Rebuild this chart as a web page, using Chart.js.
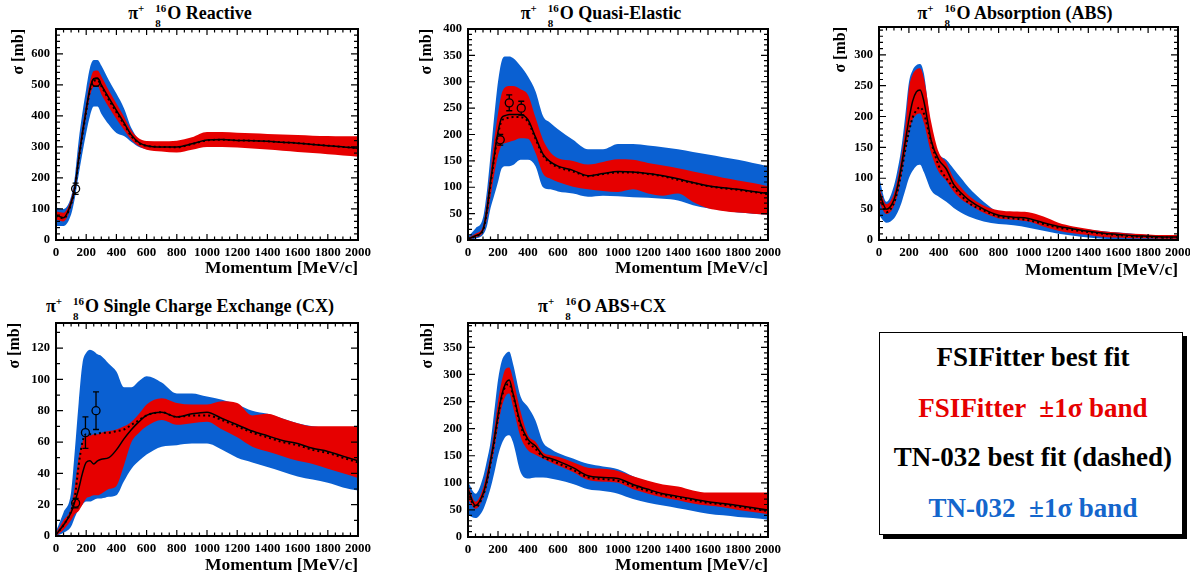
<!DOCTYPE html>
<html>
<head>
<meta charset="utf-8">
<script src="https://cdn.jsdelivr.net/npm/chart.js@4.4.1/dist/chart.umd.min.js"></script>
<style>
  body { margin: 0; background: #fff; width: 1190px; height: 578px; overflow: hidden; position: relative;
         font-family: "Liberation Serif", "Times New Roman", serif; }
  canvas { position: absolute; }
  .ttl { position: absolute; font-weight: bold; font-size: 18px; line-height: 20px; white-space: nowrap;
         transform: translateX(-50%); }
  .ttl sup { font-size: 11px; vertical-align: 7px; line-height: 0; }
  .iso { display: inline-block; position: relative; width: 12px; height: 0; margin-left: 11px; }
  .iso .a, .iso .z { position: absolute; font-size: 11px; line-height: 11px; }
  .iso .a { left: 0; top: -16px; }
  .iso .z { left: 0; top: -1px; }
  #legend { position: absolute; left: 879px; top: 332px; width: 304px; height: 203px; box-sizing: border-box;
            border: 1.5px solid #000; box-shadow: 4px 4px 0 #000; background: #fff; }
  .lg { position: absolute; left: 2px; width: 100%; text-align: center; font-weight: bold; font-size: 27px;
        line-height: 32px; white-space: pre; }
</style>
</head>
<body>
<div class="ttl" style="left:190px; top:3px">π<sup>+</sup><span class="iso"><span class="a">16</span><span class="z">8</span></span>O Reactive</div>
<div class="ttl" style="left:601px; top:3px">π<sup>+</sup><span class="iso"><span class="a">16</span><span class="z">8</span></span>O Quasi-Elastic</div>
<div class="ttl" style="left:1015px; top:3px">π<sup>+</sup><span class="iso"><span class="a">16</span><span class="z">8</span></span>O Absorption (ABS)</div>
<div class="ttl" style="left:190px; top:296px">π<sup>+</sup><span class="iso"><span class="a">16</span><span class="z">8</span></span>O Single Charge Exchange (CX)</div>
<div class="ttl" style="left:602px; top:296px">π<sup>+</sup><span class="iso"><span class="a">16</span><span class="z">8</span></span>O ABS+CX</div>

<div id="legend">
  <div class="lg" style="top:8px; color:#000">FSIFitter best fit</div>
  <div class="lg" style="top:59px; color:#e60000">FSIFitter  ±1σ band</div>
  <div class="lg" style="top:108px; color:#000">TN-032 best fit (dashed)</div>
  <div class="lg" style="top:159px; color:#1466cc">TN-032  ±1σ band</div>
</div>

<script>
// momentum grid [MeV/c], shared by all panels
const momentum = [0, 50, 100, 125, 150, 175, 200, 225, 250, 275, 300, 350, 400, 450, 500, 550, 600,
                  700, 800, 900, 1000, 1100, 1200, 1300, 1400, 1500, 1600, 1700, 1800, 1900, 2000];

// Reactive
const reactiveFsi    = [80, 72, 120, 170, 262, 345, 420, 488, 520, 522, 500, 458, 418, 378, 338, 314, 304, 300, 300, 310, 322, 324, 321, 320, 318, 315, 312, 308, 304, 300, 296];
const reactiveTn     = [78, 70, 116, 166, 255, 338, 414, 482, 512, 515, 496, 452, 412, 374, 334, 312, 303, 300, 299, 309, 321, 323, 321, 320, 318, 315, 312, 308, 304, 300, 296];
const reactiveRedHi  = [92, 88, 132, 185, 282, 365, 440, 510, 545, 546, 528, 482, 440, 398, 352, 327, 319, 318, 320, 331, 348, 348, 346, 344, 342, 340, 338, 336, 335, 334, 334];
const reactiveRedLo  = [66, 60, 108, 156, 242, 325, 398, 465, 494, 496, 470, 428, 390, 355, 322, 302, 291, 285, 282, 291, 300, 300, 298, 295, 292, 288, 284, 280, 276, 272, 268];
const reactiveBlueHi = [105, 100, 140, 205, 320, 410, 487, 555, 580, 580, 562, 515, 472, 425, 360, 324, 313, 312, 312, 322, 335, 336, 334, 332, 330, 327, 324, 320, 316, 312, 308];
const reactiveBlueLo = [45, 45, 82, 135, 210, 280, 345, 400, 430, 430, 407, 372, 345, 335, 316, 300, 293, 290, 290, 300, 310, 312, 310, 308, 306, 303, 300, 296, 292, 288, 284];
const reactivePtsX = [130, 265];
const reactivePtsY = [165, 508];
const reactivePtsErr = [18, 12];

// Quasi-elastic
const qeFsi    = [2, 8, 20, 55, 110, 160, 205, 232, 236, 238, 238, 238, 228, 195, 163, 148, 140, 132, 122, 126, 130, 129, 126, 122, 116, 109, 103, 99, 96, 92, 88];
const qeTn     = [2, 7, 18, 52, 105, 155, 200, 226, 230, 232, 233, 233, 224, 192, 160, 146, 138, 130, 121, 125, 128, 128, 125, 121, 114, 108, 102, 98, 95, 91, 87];
const qeRedHi  = [4, 12, 26, 70, 130, 190, 240, 278, 290, 292, 292, 286, 275, 232, 190, 166, 155, 150, 143, 148, 153, 152, 146, 141, 136, 130, 124, 118, 113, 108, 102];
const qeRedLo  = [1, 5, 15, 40, 82, 125, 160, 180, 184, 186, 188, 193, 192, 165, 126, 116, 110, 101, 96, 93, 91, 96, 88, 84, 88, 72, 60, 55, 52, 50, 48];
const qeBlueHi = [6, 22, 42, 90, 160, 235, 300, 340, 348, 348, 345, 330, 310, 282, 235, 222, 210, 190, 172, 172, 182, 182, 179, 176, 172, 167, 162, 157, 152, 146, 140];
const qeBlueLo = [0, 3, 10, 25, 60, 85, 110, 136, 140, 140, 142, 152, 152, 140, 100, 96, 92, 88, 82, 84, 83, 81, 80, 78, 75, 66, 60, 56, 52, 50, 48];
const qePtsX = [215, 275, 355];
const qePtsY = [190, 260, 250];
const qePtsErr = [10, 15, 13];

// Absorption
const absFsi    = [78, 50, 65, 88, 120, 158, 195, 225, 240, 243, 225, 160, 130, 115, 90, 76, 65, 50, 40, 37, 35, 28, 22, 18, 14, 11, 9, 7, 6, 5, 5];
const absTn     = [75, 45, 60, 80, 110, 145, 175, 198, 210, 215, 205, 158, 120, 100, 85, 72, 60, 48, 38, 35, 32, 26, 20, 16, 13, 10, 8, 6, 5, 4, 4];
const absRedHi  = [85, 58, 75, 100, 135, 180, 245, 268, 276, 278, 262, 190, 142, 125, 100, 85, 72, 56, 48, 46, 45, 38, 28, 22, 18, 14, 12, 10, 9, 8, 8];
const absRedLo  = [62, 42, 55, 75, 105, 140, 175, 195, 203, 205, 190, 140, 110, 96, 78, 66, 58, 44, 35, 33, 30, 22, 15, 11, 8, 5, 4, 3, 3, 2, 2];
const absBlueHi = [102, 62, 88, 115, 150, 200, 255, 275, 283, 285, 270, 180, 140, 130, 115, 100, 85, 62, 45, 40, 36, 30, 25, 20, 17, 14, 12, 10, 8, 7, 6];
const absBlueLo = [40, 28, 35, 45, 60, 80, 100, 112, 120, 122, 110, 80, 70, 62, 52, 44, 38, 30, 26, 24, 20, 15, 10, 7, 4, 2, 0, 0, 1, 1, 1];

// Single charge exchange
const cxFsi    = [1, 7, 15, 22, 30, 40, 47, 48, 46, 48, 49, 50, 55, 62, 68, 73, 77, 79, 76, 78, 79, 75, 71, 67, 64, 61, 59, 56, 54, 51, 48];
const cxTn     = [1, 7, 16, 25, 45, 60, 65, 65, 65, 65, 66, 66, 67, 68, 71, 74, 77, 79, 76, 77, 77, 74, 70, 66, 63, 60, 58, 55, 53, 50, 47];
const cxRedHi  = [2, 10, 18, 32, 50, 60, 64, 64, 65, 65, 66, 67, 68, 70, 73, 78, 84, 88, 85, 84, 84, 86, 85, 77, 78, 75, 72, 70, 70, 70, 70];
const cxRedLo  = [0, 4, 10, 14, 16, 20, 24, 25, 26, 26, 27, 30, 32, 45, 60, 66, 70, 74, 71, 72, 73, 68, 63, 57, 54, 51, 48, 46, 43, 40, 37];
const cxBlueHi = [3, 15, 28, 55, 85, 110, 117, 119, 118, 116, 115, 110, 105, 95, 95, 99, 102, 98, 91, 91, 89, 87, 84, 80, 78, 75, 72, 70, 69, 68, 68];
const cxBlueLo = [0, 2, 6, 12, 17, 20, 22, 22, 23, 24, 24, 25, 26, 35, 43, 48, 52, 57, 58, 59, 59, 55, 50, 47, 44, 41, 38, 36, 34, 31, 29];
const cxPtsX = [130, 195, 265];
const cxPtsY = [21, 66, 80];
const cxPtsErr = [3, 10, 12];

// ABS + CX
const abscxFsi    = [88, 58, 80, 105, 140, 180, 225, 262, 283, 290, 265, 210, 180, 168, 150, 145, 140, 128, 113, 110, 108, 97, 88, 80, 75, 70, 65, 62, 58, 54, 50];
const abscxTn     = [84, 55, 76, 100, 135, 175, 220, 258, 278, 282, 262, 206, 175, 163, 147, 142, 136, 124, 110, 107, 104, 94, 85, 78, 73, 68, 63, 60, 56, 52, 48];
const abscxRedHi  = [95, 65, 90, 118, 152, 198, 250, 288, 310, 313, 292, 232, 188, 176, 156, 151, 148, 138, 128, 126, 122, 112, 104, 97, 93, 86, 82, 82, 82, 82, 82];
const abscxRedLo  = [70, 52, 72, 93, 128, 162, 205, 240, 260, 265, 240, 185, 160, 152, 145, 138, 132, 120, 105, 102, 100, 88, 80, 73, 68, 62, 58, 55, 50, 46, 42];
const abscxBlueHi = [102, 80, 110, 140, 175, 232, 290, 325, 338, 342, 320, 260, 240, 215, 175, 163, 155, 145, 135, 130, 125, 112, 100, 90, 84, 78, 72, 67, 63, 60, 56];
const abscxBlueLo = [40, 35, 50, 68, 90, 118, 150, 172, 185, 188, 175, 120, 108, 110, 110, 108, 105, 98, 88, 85, 80, 70, 63, 58, 53, 48, 43, 40, 37, 35, 32];

const RED = "#e60000";
const BLUE = "#0a60d2";
const FONT = "'Liberation Serif', 'Times New Roman', serif";

// chart area in page pixels: [left, right, top, bottom]
const panels = [
    { box: [56, 358, 29, 240], yMax: 680, yStep: 100, yMinor: 20, yTitleX: 19, xTitleY: 268,
      fsi: reactiveFsi, tn: reactiveTn, redHi: reactiveRedHi, redLo: reactiveRedLo, blueHi: reactiveBlueHi, blueLo: reactiveBlueLo,
      ptsX: reactivePtsX, ptsY: reactivePtsY, ptsErr: reactivePtsErr },
    { box: [468, 768, 29, 240], yMax: 400, yStep: 50, yMinor: 10, yTitleX: 427, xTitleY: 268,
      fsi: qeFsi, tn: qeTn, redHi: qeRedHi, redLo: qeRedLo, blueHi: qeBlueHi, blueLo: qeBlueLo,
      ptsX: qePtsX, ptsY: qePtsY, ptsErr: qePtsErr },
    { box: [879, 1178, 27, 240], yMax: 345, yStep: 50, yMinor: 10, yTitleX: 841, xTitleY: 270,
      fsi: absFsi, tn: absTn, redHi: absRedHi, redLo: absRedLo, blueHi: absBlueHi, blueLo: absBlueLo,
      ptsX: [], ptsY: [], ptsErr: [] },
    { box: [56, 358, 323, 536], yMax: 136, yStep: 20, yMinor: 10, yTitleX: 15, xTitleY: 565,
      fsi: cxFsi, tn: cxTn, redHi: cxRedHi, redLo: cxRedLo, blueHi: cxBlueHi, blueLo: cxBlueLo,
      ptsX: cxPtsX, ptsY: cxPtsY, ptsErr: cxPtsErr },
    { box: [468, 768, 323, 537], yMax: 395, yStep: 50, yMinor: 10, yTitleX: 428, xTitleY: 565,
      fsi: abscxFsi, tn: abscxTn, redHi: abscxRedHi, redLo: abscxRedLo, blueHi: abscxBlueHi, blueLo: abscxBlueLo,
      ptsX: [], ptsY: [], ptsErr: [] },
];

// ROOT-like frame with inward ticks on all four sides
const frameTicks = {
    id: "frameTicks",
    afterDatasetsDraw(chart, args, opts) {
        const { ctx, chartArea: a, scales: { x, y } } = chart;
        ctx.save();
        ctx.strokeStyle = "#000";
        ctx.lineWidth = 1.2;
        ctx.beginPath();
        for (let k = 0; k * 50 <= 2000; k++) {
            const v = k * 50;
            const px = x.getPixelForValue(v);
            const len = v % 200 === 0 ? 6 : 3.5;
            ctx.moveTo(px, a.bottom); ctx.lineTo(px, a.bottom - len);
            ctx.moveTo(px, a.top); ctx.lineTo(px, a.top + len);
        }
        for (let k = 0; k * opts.minor <= y.max; k++) {
            const v = k * opts.minor;
            const py = y.getPixelForValue(v);
            const len = v % opts.major === 0 ? 7 : 4;
            ctx.moveTo(a.left, py); ctx.lineTo(a.left + len, py);
            ctx.moveTo(a.right, py); ctx.lineTo(a.right - len, py);
        }
        ctx.stroke();
        ctx.lineWidth = 2;
        ctx.strokeRect(a.left, a.top, a.right - a.left, a.bottom - a.top);
        ctx.restore();
    }
};

// vertical error bars for the data points
const errorBars = {
    id: "errorBars",
    afterDatasetsDraw(chart) {
        const { ctx, scales: { x, y } } = chart;
        chart.data.datasets.forEach(ds => {
            if (!ds.errorBars) return;
            ctx.save();
            ctx.strokeStyle = "#000";
            ctx.lineWidth = 1.3;
            ds.data.forEach((pt, i) => {
                const px = x.getPixelForValue(pt.x);
                const mid = y.getPixelForValue(pt.y);
                const top = y.getPixelForValue(pt.y + ds.errorBars[i]);
                const bot = y.getPixelForValue(pt.y - ds.errorBars[i]);
                ctx.beginPath();
                ctx.moveTo(px, top); ctx.lineTo(px, mid - 4);
                ctx.moveTo(px, mid + 4); ctx.lineTo(px, bot);
                ctx.moveTo(px - 3, top); ctx.lineTo(px + 3, top);
                ctx.moveTo(px - 3, bot); ctx.lineTo(px + 3, bot);
                ctx.stroke();
            });
            ctx.restore();
        });
    }
};

const toPoints = arr => momentum.map((m, i) => ({ x: m, y: arr[i] }));

function band(arr, color, target, order) {
    return { data: toPoints(arr), borderColor: "rgba(0,0,0,0)", borderWidth: 0, backgroundColor: color,
             pointRadius: 0, fill: target, order: order, cubicInterpolationMode: "monotone" };
}

function makePanel(p) {
    const [L, R, T, B] = p.box;
    const padTop = 20, padRight = 26, yAxisW = 56;
    const xTitleSize = 17.5, yTitleSize = 16;
    const xAxisH = (p.xTitleY - B) + xTitleSize * 1.2 / 2;
    const cw = yAxisW + (R - L) + padRight;
    const ch = Math.ceil(padTop + (B - T) + xAxisH + 2);
    const padBottom = ch - padTop - (B - T) - xAxisH;

    const canvas = document.createElement("canvas");
    canvas.width = cw;
    canvas.height = ch;
    canvas.style.left = (L - yAxisW) + "px";
    canvas.style.top = (T - padTop) + "px";
    document.body.appendChild(canvas);

    const yTitlePad = p.yTitleX - (L - yAxisW) - yTitleSize * 1.2 / 2;

    new Chart(canvas, {
        type: "line",
        data: {
            datasets: [
                { data: p.ptsX.map((v, i) => ({ x: v, y: p.ptsY[i] })), errorBars: p.ptsErr, showLine: false,
                  pointRadius: 4, pointBorderColor: "#000", pointBackgroundColor: "rgba(0,0,0,0)",
                  pointBorderWidth: 1.3, order: 0 },
                { data: toPoints(p.tn), borderColor: "#000", borderWidth: 2, borderDash: [2, 3], pointRadius: 0,
                  fill: false, order: 1, cubicInterpolationMode: "monotone" },
                { data: toPoints(p.fsi), borderColor: "#000", borderWidth: 1.5, pointRadius: 0,
                  fill: false, order: 2, cubicInterpolationMode: "monotone" },
                band(p.redHi, RED, 4, 3),
                band(p.redLo, RED, false, 4),
                band(p.blueHi, BLUE, 6, 5),
                band(p.blueLo, BLUE, false, 6),
            ]
        },
        options: {
            responsive: false,
            animation: false,
            events: [],
            devicePixelRatio: 1,
            layout: { padding: { left: 0, top: padTop, right: padRight, bottom: padBottom } },
            plugins: {
                legend: { display: false },
                tooltip: { enabled: false },
                frameTicks: { major: p.yStep, minor: p.yMinor },
            },
            scales: {
                x: {
                    type: "linear", min: 0, max: 2000,
                    grid: { display: false, drawTicks: false }, border: { display: false },
                    ticks: { stepSize: 200, autoSkip: false, maxRotation: 0, padding: 5, color: "#000",
                             includeBounds: false, callback: v => String(v),
                             font: { family: FONT, weight: "bold", size: 13 } },
                    title: { display: true, text: "Momentum [MeV/c]", align: "end", color: "#000",
                             padding: { top: 0, bottom: 0 }, font: { family: FONT, weight: "bold", size: xTitleSize } },
                    afterFit: s => { s.height = xAxisH; },
                },
                y: {
                    min: 0, max: p.yMax,
                    grid: { display: false, drawTicks: false }, border: { display: false },
                    ticks: { stepSize: p.yStep, padding: 6, color: "#000", includeBounds: false,
                             callback: v => String(v),
                             font: { family: FONT, weight: "bold", size: 12.5 } },
                    title: { display: true, text: "σ [mb]", align: "end", color: "#000",
                             padding: { top: yTitlePad, bottom: 0 }, font: { family: FONT, weight: "bold", size: yTitleSize } },
                    afterFit: s => { s.width = yAxisW; },
                },
            },
        },
        plugins: [frameTicks, errorBars],
    });
}

panels.forEach(makePanel);
</script>
</body>
</html>
